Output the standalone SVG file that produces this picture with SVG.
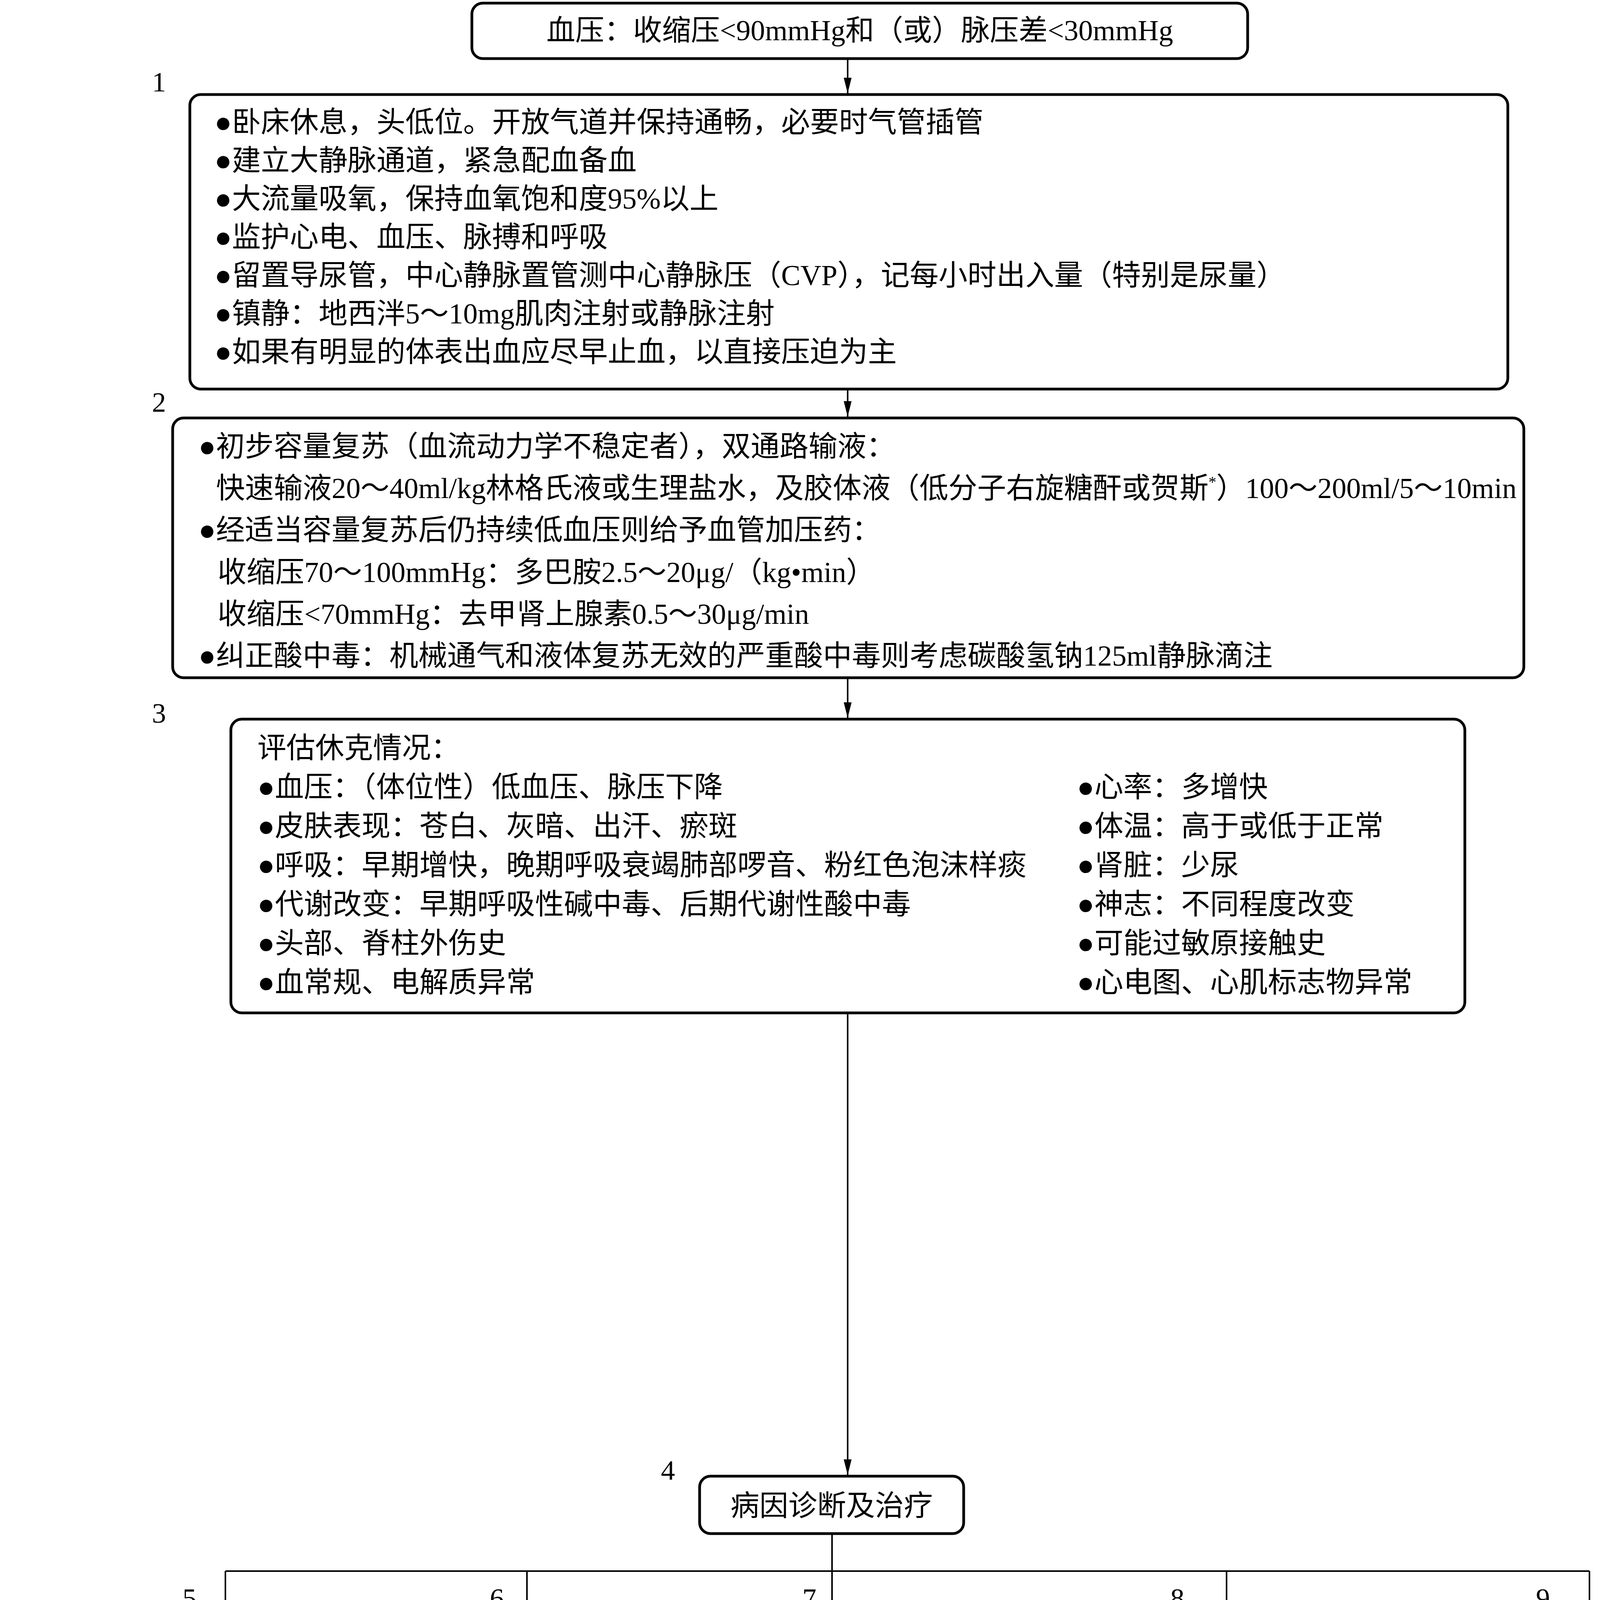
<svg xmlns="http://www.w3.org/2000/svg" width="4307" height="6382" viewBox="0 0 4307 6382">
<defs>
<style>
.t{font-family:"Liberation Serif","Noto Sans CJK SC",serif;font-size:74px;fill:#000}
.c{text-anchor:middle}
.n{font-family:"Liberation Serif",serif;font-size:72px;fill:#000;text-anchor:middle}
.box{fill:#fff;stroke:#000;stroke-width:7}
.ln{fill:none;stroke:#000;stroke-width:4}
</style>
<marker id="arr" markerUnits="userSpaceOnUse" markerWidth="40" markerHeight="20" refX="40" refY="10" orient="auto">
<path d="M0,0 L40,10 L0,20 z" fill="#000"/>
</marker>
</defs>
<rect width="4307" height="6382" fill="#fff"/>

<g id="node-top">
<rect class="box" x="1208" y="8" width="1986" height="142" rx="28"/>
<text class="t c" x="2201" y="103">血压：收缩压&lt;90mmHg和（或）脉压差&lt;30mmHg</text>
</g>

<g id="node-1">
<text class="n" x="407" y="234">1</text>
<rect class="box" x="486" y="242" width="3374" height="754" rx="28"/>
<text class="t" x="549" y="338">●卧床休息，头低位。开放气道并保持通畅，必要时气管插管</text>
<text class="t" x="549" y="436">●建立大静脉通道，紧急配血备血</text>
<text class="t" x="549" y="534">●大流量吸氧，保持血氧饱和度95%以上</text>
<text class="t" x="549" y="632">●监护心电、血压、脉搏和呼吸</text>
<text class="t" x="549" y="730">●留置导尿管，中心静脉置管测中心静脉压（CVP），记每小时出入量（特别是尿量）</text>
<text class="t" x="549" y="828">●镇静：地西泮5～10mg肌肉注射或静脉注射</text>
<text class="t" x="549" y="926">●如果有明显的体表出血应尽早止血，以直接压迫为主</text>
</g>

<g id="node-2">
<text class="n" x="407" y="1054">2</text>
<rect class="box" x="442" y="1070" width="3459" height="665" rx="28"/>
<text class="t" x="508" y="1168">●初步容量复苏（血流动力学不稳定者），双通路输液：</text>
<text class="t" x="553" y="1275" font-size="73">快速输液20～40ml/kg林格氏液或生理盐水，及胶体液（低分子右旋糖酐或贺斯<tspan dy="-28" font-size="40">*</tspan><tspan dy="28">）100～200ml/5～10min</tspan></text>
<text class="t" x="508" y="1382">●经适当容量复苏后仍持续低血压则给予血管加压药：</text>
<text class="t" x="557" y="1490">收缩压70～100mmHg：多巴胺2.5～20μg/（kg•min）</text>
<text class="t" x="557" y="1597">收缩压&lt;70mmHg：去甲肾上腺素0.5～30μg/min</text>
<text class="t" x="508" y="1704">●纠正酸中毒：机械通气和液体复苏无效的严重酸中毒则考虑碳酸氢钠125ml静脉滴注</text>
</g>

<g id="node-3">
<text class="n" x="407" y="1850">3</text>
<rect class="box" x="591" y="1841" width="3159" height="752" rx="28"/>
<text class="t" x="659" y="1940">评估休克情况：</text>
<text class="t" x="659" y="2040">●血压：（体位性）低血压、脉压下降</text>
<text class="t" x="659" y="2140">●皮肤表现：苍白、灰暗、出汗、瘀斑</text>
<text class="t" x="659" y="2240">●呼吸：早期增快，晚期呼吸衰竭肺部啰音、粉红色泡沫样痰</text>
<text class="t" x="659" y="2340">●代谢改变：早期呼吸性碱中毒、后期代谢性酸中毒</text>
<text class="t" x="659" y="2440">●头部、脊柱外伤史</text>
<text class="t" x="659" y="2540">●血常规、电解质异常</text>
<text class="t" x="2757" y="2040">●心率：多增快</text>
<text class="t" x="2757" y="2140">●体温：高于或低于正常</text>
<text class="t" x="2757" y="2240">●肾脏：少尿</text>
<text class="t" x="2757" y="2340">●神志：不同程度改变</text>
<text class="t" x="2757" y="2440">●可能过敏原接触史</text>
<text class="t" x="2757" y="2540">●心电图、心肌标志物异常</text>
</g>

<g id="node-4">
<text class="n" x="1710" y="3788">4</text>
<rect class="box" x="1791" y="3779" width="676" height="147" rx="28"/>
<text class="t c" x="2129" y="3880">病因诊断及治疗</text>
</g>

<g id="node-5">
<text class="n" x="485" y="4116">5</text>
<rect class="box" x="352" y="4143" width="445" height="147" rx="28"/>
<text class="t c" x="574" y="4244">心源性休克</text>
</g>
<g id="node-6">
<text class="n" x="1272" y="4116">6</text>
<rect class="box" x="1066" y="4143" width="569" height="147" rx="28"/>
<text class="t c" x="1350" y="4244">低血容量性休克</text>
</g>
<g id="node-7">
<text class="n" x="2072" y="4116">7</text>
<rect class="box" x="1907" y="4143" width="450" height="147" rx="28"/>
<text class="t c" x="2132" y="4244">脓毒性休克</text>
</g>
<g id="node-8">
<text class="n" x="3014" y="4116">8</text>
<rect class="box" x="2429" y="4143" width="1362" height="147" rx="28"/>
<text class="t c" x="3110" y="4244">过敏性休克（见“过敏反应抢救流程”）</text>
</g>
<g id="node-9">
<text class="n" x="3950" y="4116">9</text>
<rect class="box" x="3846" y="4143" width="448" height="147" rx="28"/>
<text class="t c" x="4070" y="4244">脓毒性休克</text>
</g>

<g id="node-10">
<text class="n" x="450" y="4546">10</text>
<rect class="box" x="7" y="4579" width="1274" height="1154" rx="28"/>
<text class="t" x="54" y="4693">●</text><text class="t" x="102" y="4693">纠正心律失常、电解质紊乱</text>
<text class="t" x="54" y="4801">●</text><text class="t" x="102" y="4801">若合并低血容量：予胶体液（如低</text>
<text class="t" x="102" y="4909" textLength="1124" lengthAdjust="spacingAndGlyphs">分子右旋糖酐）200ml（&lt;10min），观</text>
<text class="t" x="102" y="5017">察休克征象有无改善</text>
<text class="t" x="54" y="5125">●</text><text class="t" x="102" y="5125" textLength="1059" lengthAdjust="spacingAndGlyphs">如血压允许，予硝酸甘油 5mg/h，</text>
<text class="t" x="102" y="5233">如血压低，予正性肌力药物（如多</text>
<text class="t" x="102" y="5341">巴胺、多巴酚丁胺）</text>
<text class="t" x="54" y="5449">●</text><text class="t" x="102" y="5449">吗啡：2.5mg 静脉注射</text>
<text class="t" x="54" y="5557">●</text><text class="t" x="102" y="5557">重度心衰：考虑气管插管机械通气</text>
<text class="t" x="102" y="5665" textLength="1156" lengthAdjust="spacingAndGlyphs">（见“ 急性左心功能衰竭抢救流程”）</text>
</g>

<g id="node-11">
<text class="n" x="2010" y="4546">11</text>
<rect class="box" x="1420" y="4579" width="1415" height="1795" rx="28"/>
<text class="t" x="1455" y="4693">●</text><text class="t" x="1502" y="4693">积极复苏，加强气道管理</text>
<text class="t" x="1455" y="4801">●</text><text class="t" x="1502" y="4801" textLength="1200" lengthAdjust="spacingAndGlyphs">稳定血流动力学状态：每 5 ～ 10 min</text>
<text class="t" x="1502" y="4909" textLength="1318" lengthAdjust="spacingAndGlyphs">快速输入林格氏液500ml（儿童 20ml/kg），</text>
<text class="t" x="1502" y="5017" textLength="1227" lengthAdjust="spacingAndGlyphs">共 4 ～ 6L（儿童 60ml/kg），如血红蛋</text>
<text class="t" x="1502" y="5125" textLength="789" lengthAdjust="spacingAndGlyphs">白 &lt;7 ～ 10g/dl 考虑输血</text>
<text class="t" x="1455" y="5233">●</text><text class="t" x="1502" y="5233" textLength="1318" lengthAdjust="spacingAndGlyphs">正性肌力药：多巴胺 5 ～ 20μg/（kg•min），</text>
<text class="t" x="1502" y="5341" textLength="1239" lengthAdjust="spacingAndGlyphs">血压仍低则去甲肾上腺素 8 ～ 12μg 静</text>
<text class="t" x="1502" y="5449" textLength="1262" lengthAdjust="spacingAndGlyphs">脉推注，继以 2 ～ 4μg/min 静脉滴注维</text>
<text class="t" x="1502" y="5557" textLength="916" lengthAdjust="spacingAndGlyphs">持平均动脉压 60mmHg 以上</text>
<text class="t" x="1455" y="5665">●</text><text class="t" x="1502" y="5665">清除感染源：如感染导管、脓肿清除引</text>
<text class="t" x="1502" y="5773">流等</text>
<text class="t" x="1455" y="5881">●</text><text class="t" x="1502" y="5881">尽早经验性抗生素治疗</text>
<text class="t" x="1455" y="5989">●</text><text class="t" x="1502" y="5989">纠正酸中毒</text>
<text class="t" x="1455" y="6097">●</text><text class="t" x="1502" y="6097">可疑肾上腺皮质功能不全：氢化可的松</text>
<text class="t" x="1502" y="6205" textLength="1212" lengthAdjust="spacingAndGlyphs">琥珀酸钠 100mg 或甲泼尼龙琥珀酸钠</text>
<text class="t" x="1502" y="6313" textLength="481" lengthAdjust="spacingAndGlyphs">40mg 静脉滴注</text>
</g>

<g id="node-12">
<text class="n" x="3915" y="4546">12</text>
<rect class="box" x="2880" y="4579" width="1420" height="1233" rx="28"/>
<text class="t" x="2917" y="4693">●</text><text class="t" x="2966" y="4693">保持气道通畅</text>
<text class="t" x="2917" y="4801">●</text><text class="t" x="2966" y="4801">静脉输入林格氏液，维持平均动脉压</text>
<text class="t" x="2966" y="4909" textLength="1218" lengthAdjust="spacingAndGlyphs">&gt;70mmHg，否则加用正性肌力药（多</text>
<text class="t" x="2966" y="5017">巴胺、多巴酚丁胺）</text>
<text class="t" x="2917" y="5125">●</text><text class="t" x="2966" y="5125" textLength="1271" lengthAdjust="spacingAndGlyphs">严重心动过缓：阿托品 0.5 ～ 1mg 静脉</text>
<text class="t" x="2966" y="5233" textLength="1218" lengthAdjust="spacingAndGlyphs">推注，必要时每 5min重复一次，总量</text>
<text class="t" x="2966" y="5341" textLength="953" lengthAdjust="spacingAndGlyphs">3mg，无效则考虑安装起搏器</text>
<text class="t" x="2917" y="5449">●</text><text class="t" x="2966" y="5449" textLength="1140" lengthAdjust="spacingAndGlyphs">激素：脊髓损伤 8h内甲基泼尼松龙</text>
<text class="t" x="2966" y="5557" textLength="1228" lengthAdjust="spacingAndGlyphs">30mg/kg 注射 15min以上，继以5.4mg/</text>
<text class="t" x="2966" y="5665" textLength="870" lengthAdjust="spacingAndGlyphs">（kg•h），持续静脉滴注 23h</text>
<text class="t" x="2917" y="5773">●</text><text class="t" x="2966" y="5773">请相关专科会诊</text>
</g>

<g id="node-hes">
<rect class="box" x="2880" y="5878" width="1420" height="172" rx="28"/>
<text class="t" x="2917" y="5990">●贺斯：羟基淀粉200/0.5氯化钠注射液</text>
</g>

<g id="node-see">
<rect class="box" x="368" y="5887" width="458" height="146" rx="28"/>
<text class="t c" x="597" y="5988">见框1～2</text>
</g>

<g id="connectors">
<path class="ln" d="M2170,150 V239" marker-end="url(#arr)"/>
<path class="ln" d="M2170,996 V1067" marker-end="url(#arr)"/>
<path class="ln" d="M2170,1735 V1838" marker-end="url(#arr)"/>
<path class="ln" d="M2170,2593 V3776" marker-end="url(#arr)"/>
<path class="ln" d="M2130,3926 V4022"/>
<path class="ln" d="M577,4022 H4069"/>
<path class="ln" d="M577,4022 V4140" marker-end="url(#arr)"/>
<path class="ln" d="M1349,4022 V4140" marker-end="url(#arr)"/>
<path class="ln" d="M2130,4022 V4140" marker-end="url(#arr)"/>
<path class="ln" d="M3140,4022 V4140" marker-end="url(#arr)"/>
<path class="ln" d="M4069,4022 V4140" marker-end="url(#arr)"/>
<path class="ln" d="M577,4290 V4576" marker-end="url(#arr)"/>
<path class="ln" d="M2130,4290 V4576" marker-end="url(#arr)"/>
<path class="ln" d="M4069,4290 V4576" marker-end="url(#arr)"/>
<path class="ln" d="M1349,4290 V5959 H826"/>
</g>
</svg>
